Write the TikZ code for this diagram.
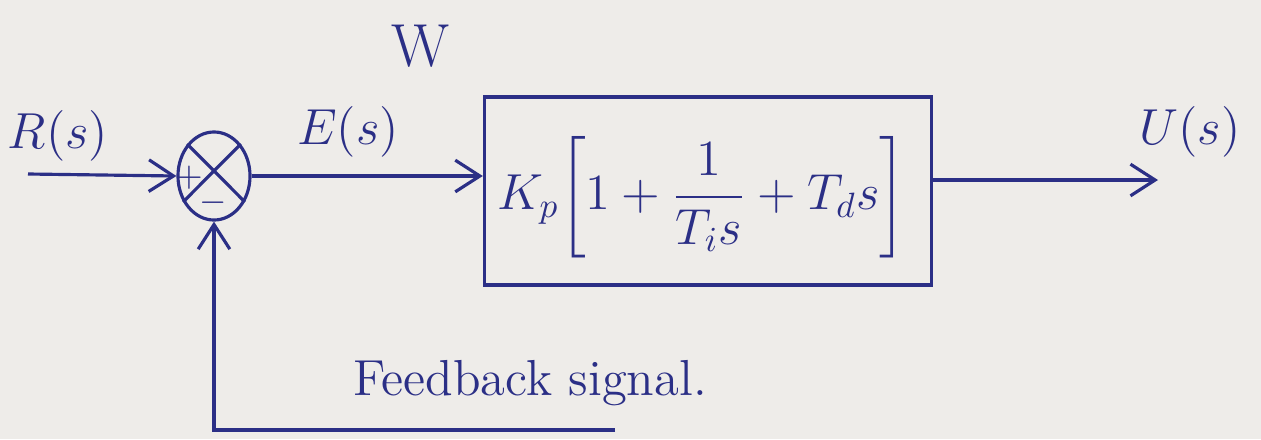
\documentclass[tikz,border=0pt]{standalone}
\usepackage{amsmath}
\usetikzlibrary{shapes.geometric,arrows.meta}
\definecolor{ink}{HTML}{2B2F86}
\definecolor{paper}{HTML}{EEECE9}
\begin{document}
\begin{tikzpicture}[x=0.01cm,y=-0.01cm,
  ink/.style={draw=ink,line width=0.9pt},
  sig/.style={ink,-{Straight Barb[length=7pt,width=9pt]}},
  lbl/.style={text=ink,font=\Large},
]
\fill[paper] (0,0) rectangle (1261,439);
\useasboundingbox (0,0) rectangle (1261,439);
% summing junction
\node[ellipse,ink,minimum width=0.72cm,minimum height=0.88cm,inner sep=0pt] (sum) at (214,176) {};
\draw[ink] (sum.130) -- (sum.-40);
\draw[ink] (sum.50) -- (sum.-140);
\node[text=ink,inner sep=0pt] (plus) at (189,178) {$+$};
\node[text=ink,inner sep=0pt] (minus) at (213,203) {$-$};
% controller block
\node[rectangle,ink,minimum width=4.47cm,minimum height=1.88cm,inner sep=0pt] (ctrl) at (708,191) {};
\node[text=ink,font=\Large] (form) at (702,197) {$K_p\!\left[1+\dfrac{1}{T_i s}+T_d s\right]$};
% coordinates
\coordinate (in) at (28,174);
\coordinate (out) at (1158,180);
\coordinate (fb) at (615,430);
% connectors
\draw[sig] (in) -- (sum.west);
\draw[sig] (sum.east) -- (ctrl.west |- sum.east);
\draw[sig] (ctrl.east |- out) -- (out);
\draw[sig] (fb) -| (sum.south);
% labels
\node[lbl] (r) at (58,136) {$R(s)$};
\node[lbl] (e) at (348,132) {$E(s)$};
\node[lbl] (u) at (1190,132) {$U(s)$};
\node[lbl] (fbl) at (530,383) {Feedback signal.};
\node[lbl,font=\LARGE] (w) at (421,46) {W};
\end{tikzpicture}
\end{document}
